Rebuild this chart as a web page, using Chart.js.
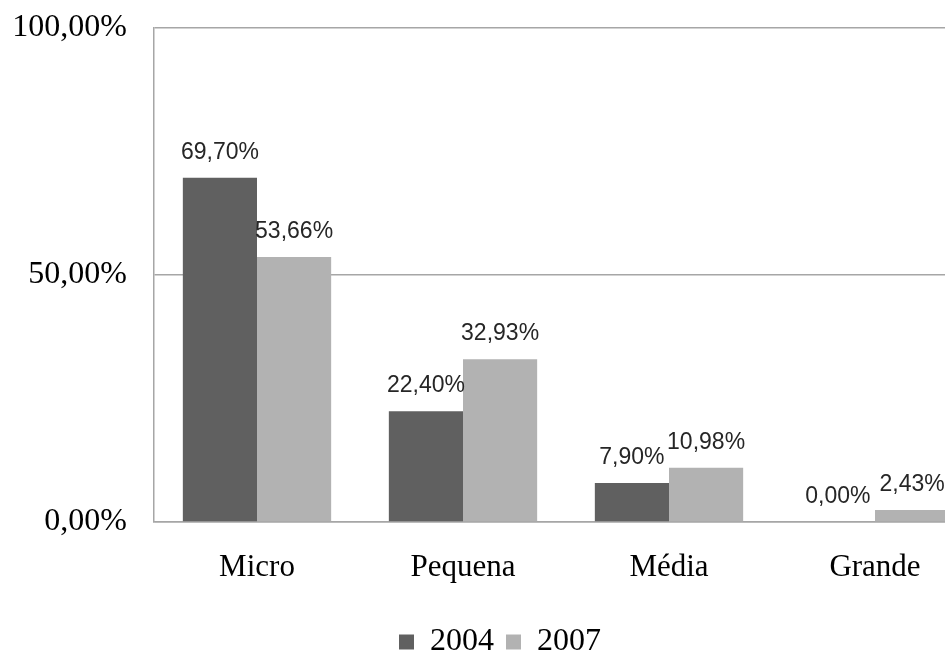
<!DOCTYPE html>
<html>
<head>
<meta charset="utf-8">
<script src="https://cdn.jsdelivr.net/npm/chart.js@4.4.1/dist/chart.umd.min.js"></script>
<style>
  html, body { margin: 0; padding: 0; background: #fff; overflow: hidden; }
  #grafico { display: block; }
</style>
</head>
<body>
<canvas id="grafico" width="1000" height="668"></canvas>
<script>
const categorias = ["Micro", "Pequena", "Média", "Grande"];
const anos = ["2004", "2007"];
const valores2004 = [69.70, 22.40, 7.90, 0.00];
const valores2007 = [53.66, 32.93, 10.98, 2.43];
const marcasY = [0, 50, 100];

function formatarPct(v) {
    return v.toFixed(2).replace(".", ",") + "%";
}

// rótulos de valor acima das barras
const rotulosBarras = {
    id: "rotulosBarras",
    afterDatasetsDraw(chart) {
        const ctx = chart.ctx;
        ctx.save();
        ctx.font = "23px 'Liberation Sans', Arial, sans-serif";
        ctx.fillStyle = "#262626";
        ctx.textAlign = "center";
        ctx.textBaseline = "alphabetic";
        chart.data.datasets.forEach(function (ds, i) {
            chart.getDatasetMeta(i).data.forEach(function (bar, j) {
                ctx.fillText(formatarPct(ds.data[j]), bar.x, bar.y - 19);
            });
        });
        ctx.restore();
    }
};

// legenda centrada na largura total do gráfico
const centrarLegenda = {
    id: "centrarLegenda",
    afterLayout(chart) {
        if (chart.legend) {
            chart.legend.left += 11;
            chart.legend.right += 11;
        }
    }
};

const ctx = document.getElementById("grafico").getContext("2d");
const grafico = new Chart(ctx, {
    type: "bar",
    data: {
        labels: categorias,
        datasets: [
            { label: anos[0], data: valores2004, backgroundColor: "#606060" },
            { label: anos[1], data: valores2007, backgroundColor: "#b2b2b2" }
        ]
    },
    options: {
        responsive: false,
        animation: false,
        layout: { padding: { top: 28, right: 22, left: 0, bottom: 0 } },
        datasets: {
            bar: { categoryPercentage: 0.72, barPercentage: 1.0 }
        },
        scales: {
            x: {
                grid: { display: false },
                border: { color: "#a6a6a6", width: 1.5 },
                ticks: {
                    color: "#000",
                    padding: 19,
                    font: { family: "'Liberation Serif', 'Times New Roman', serif", size: 31 }
                },
                afterFit: function (scale) { scale.height = 92; }
            },
            y: {
                min: 0,
                max: 100,
                afterBuildTicks: function (scale) {
                    scale.ticks = marcasY.map(function (v) { return { value: v }; });
                },
                grid: { color: "#a6a6a6", lineWidth: 1.5, drawTicks: false },
                border: { color: "#a6a6a6", width: 1.5 },
                ticks: {
                    color: "#000",
                    padding: 27,
                    font: { family: "'Liberation Serif', 'Times New Roman', serif", size: 32 },
                    callback: function (value) { return formatarPct(value); }
                },
                afterFit: function (scale) {
                    scale.width = 154;
                    scale.paddingTop = 5;
                    scale.paddingBottom = 5;
                }
            }
        },
        plugins: {
            legend: {
                position: "bottom",
                labels: {
                    color: "#000",
                    boxWidth: 15,
                    boxHeight: 15,
                    padding: 12,
                    font: { family: "'Liberation Serif', 'Times New Roman', serif", size: 32 }
                }
            },
            tooltip: { enabled: false }
        }
    },
    plugins: [rotulosBarras, centrarLegenda]
});
</script>
</body>
</html>
